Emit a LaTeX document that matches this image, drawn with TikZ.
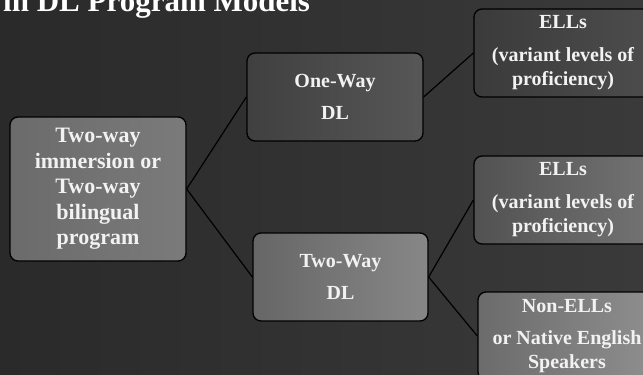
\documentclass[tikz,border=0pt]{standalone}
\usepackage{fontspec}
\setmainfont{Liberation Serif}
\definecolor{bgA}{HTML}{2A2A2A}
\definecolor{bgB}{HTML}{3A3A3A}
\definecolor{txt}{HTML}{F2F2F2}
\tikzset{
  box/.style={draw=black, line width=1.3pt, rounded corners=8pt, align=center,
    text=txt, inner sep=0pt, minimum height=88pt, minimum width=178pt,
    font=\bfseries\fontsize{20}{32}\selectfont},
  link/.style={draw=black, line width=1.2pt},
}
\begin{document}
\begin{tikzpicture}[x=1pt,y=-1pt]
\useasboundingbox (0,0) rectangle (643,375);
\clip (0,0) rectangle (643,375);
\shade[left color=bgA, right color=bgB] (0,0) rectangle (643,375);
% title
\node[anchor=base west, inner sep=0pt, text=white, font=\bfseries\fontsize{31}{31}\selectfont] (title) at (3,11) {in DL Program Models};
% boxes
\node[box, minimum width=176pt, minimum height=144pt, left color=black!58, right color=black!52,
  font=\bfseries\fontsize{22}{25.5}\selectfont] (root) at (98,189)
  {Two-way\\immersion or\\Two-way\\bilingual\\program};
\node[box, minimum width=176pt, left color=black!75, right color=black!66] (one) at (335,97) {One-Way\\DL};
\node[box, minimum width=175pt, left color=black!60, right color=black!47] (two) at (340.5,277) {Two-Way\\DL};
\node[box, left color=black!77, right color=black!70, font=\bfseries\fontsize{20}{24}\selectfont] (e1) at (563,53)
  {ELLs\\[9pt](variant levels of\\proficiency)};
\node[box, left color=black!68, right color=black!55, font=\bfseries\fontsize{20}{24}\selectfont] (e2) at (563,200)
  {ELLs\\[9pt](variant levels of\\proficiency)};
\node[box, left color=black!58, right color=black!44, font=\bfseries\fontsize{20}{24}\selectfont] (n) at (567,336)
  {Non-ELLs\\[8pt]or Native English\\Speakers};
% connectors
\draw[link] (root.east) -- (one.west);
\draw[link] (root.east) -- (two.west);
\draw[link] (one.east) -- (e1.west);
\draw[link] (two.east) -- (e2.west);
\draw[link] (two.east) -- (n.west);
\end{tikzpicture}
\end{document}
